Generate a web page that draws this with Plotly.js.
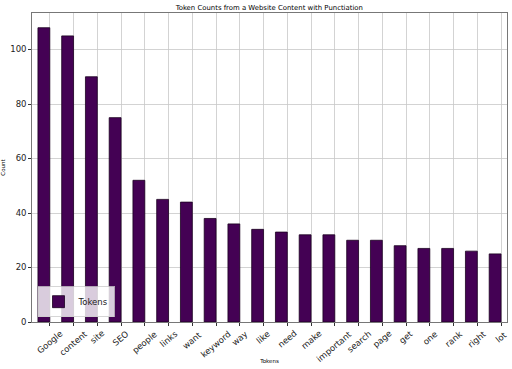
<!DOCTYPE html>
<html>
<head>
<meta charset="utf-8">
<script src="https://cdn.plot.ly/plotly-3.0.1.min.js"></script>
<style>html,body{margin:0;padding:0;background:#fff;}#chart{width:512px;height:369px;}</style>
</head>
<body>
<div id="chart"></div>
<script>
const tokens = ["Google","content","site","SEO","people","links","want","keyword","way","like","need","make","important","search","page","get","one","rank","right","lot"];
const counts = [108,105,90,75,52,45,44,38,36,34,33,32,32,30,30,28,27,27,26,25];
const positions = tokens.map((_, i) => i);

const trace = {
  type: 'bar',
  x: positions,
  y: counts,
  name: 'Tokens',
  width: 0.5,
  offset: -0.5,
  marker: {color: '#440154', line: {color: '#1a0020', width: 0.8}},
  showlegend: true
};

// Tick labels centred on their ticks, rotated like the reference
const tickLabels = tokens.map((t, i) => ({
  x: positions[i], xref: 'x', y: 0, yref: 'paper',
  text: t, showarrow: false, textangle: -40,
  xanchor: 'center', yanchor: 'top', yshift: -4,
  font: {family: 'DejaVu Sans', size: 8.5, color: '#222'}
}));

const layout = {
  width: 512, height: 369,
  margin: {l: 32, r: 5, t: 13, b: 47},
  paper_bgcolor: '#fff', plot_bgcolor: '#fff',
  font: {family: 'DejaVu Sans', color: '#000'},
  title: {text: 'Token Counts from a Website Content with Punctiation', font: {size: 6.9, color: '#000'}, x: 0.526, xanchor: 'center', y: 0.985, yanchor: 'top'},
  xaxis: {
    range: [-0.75, 19.25],
    tickmode: 'array', tickvals: positions, ticktext: tokens,
    showticklabels: false,
    ticks: 'outside', ticklen: 3, tickcolor: '#333',
    showgrid: true, gridcolor: '#c8c8c8', gridwidth: 0.8,
    showline: true, linecolor: '#555', mirror: true, linewidth: 0.8,
    zeroline: false,
    title: {text: 'Tokens', font: {size: 5.5}, standoff: 34}
  },
  yaxis: {
    range: [0, 113.4],
    tickvals: [0, 20, 40, 60, 80, 100],
    tickfont: {size: 8.5, color: '#222'},
    ticks: 'outside', ticklen: 3, tickcolor: '#333',
    showgrid: true, gridcolor: '#c8c8c8', gridwidth: 0.8,
    showline: true, linecolor: '#555', mirror: true, linewidth: 0.8,
    zeroline: false,
    title: {text: 'Count', font: {size: 5.5}, standoff: 8}
  },
  legend: {
    x: 0.012, y: 0.015, xanchor: 'left', yanchor: 'bottom',
    bgcolor: 'rgba(255,255,255,0.8)', bordercolor: '#ccc', borderwidth: 0.8,
    font: {size: 8.5, color: '#222'}, itemwidth: 30
  },
  annotations: tickLabels,
  bargap: 0
};

Plotly.newPlot('chart', [trace], layout, {staticPlot: true, displayModeBar: false});
</script>
</body>
</html>
